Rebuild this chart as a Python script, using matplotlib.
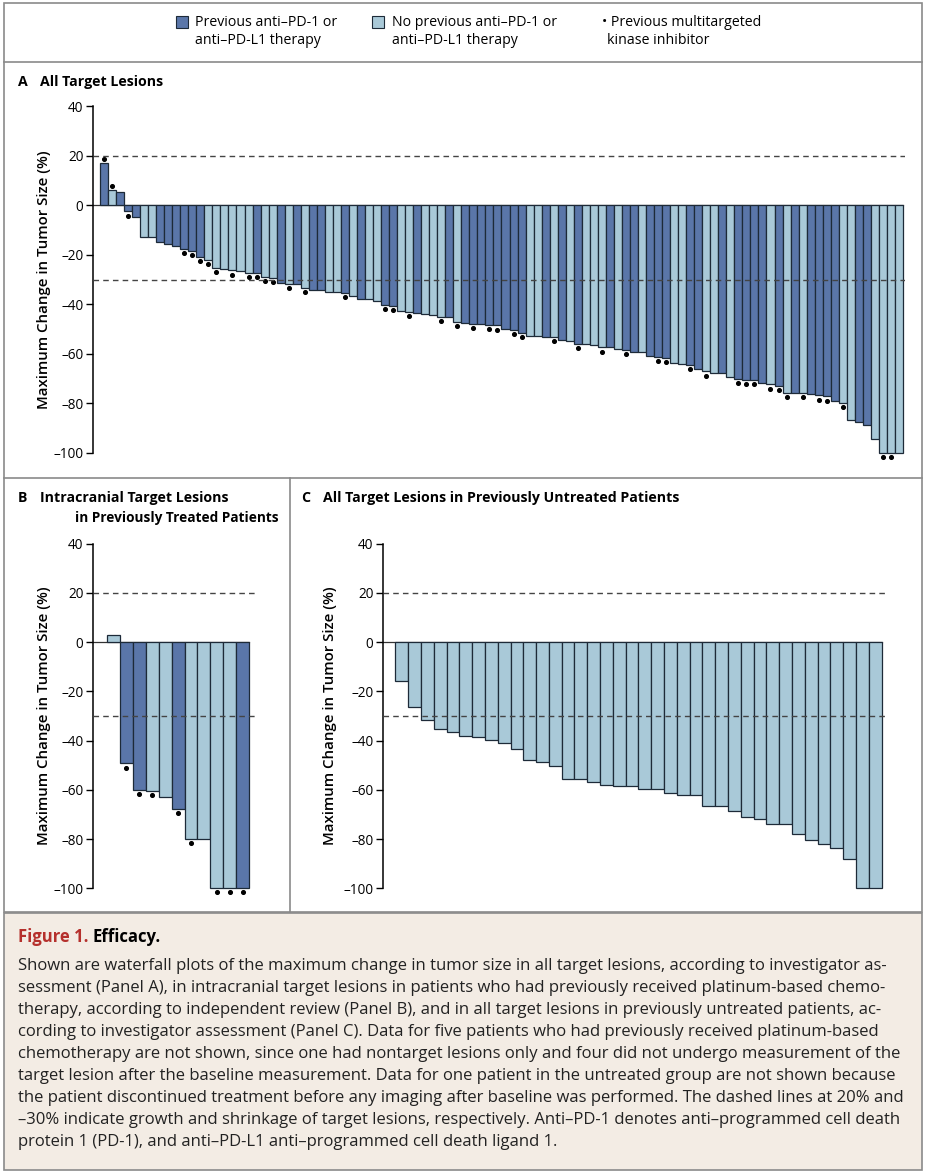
import matplotlib
matplotlib.use("Agg")
import matplotlib.pyplot as plt
from matplotlib.patches import Rectangle
import numpy as np

plt.rcParams['font.family'] = ['Open Sans', 'DejaVu Sans']

# ---- data ----
a_change = [17.0, 6.0, 5.2, -2.5, -4.8, -12.9, -12.9, -15.0, -15.6, -16.6,
            -17.6, -18.5, -20.9, -22.0, -25.3, -25.9, -26.3, -26.6, -27.2, -27.2,
            -28.9, -29.4, -31.6, -31.9, -31.9, -33.5, -34.1, -34.3, -35.1, -35.1,
            -35.5, -36.6, -37.9, -37.9, -38.7, -40.1, -40.5, -42.8, -43.2, -43.6,
            -43.8, -44.4, -45.2, -45.2, -47.1, -47.7, -47.9, -48.0, -48.4, -48.5,
            -50.0, -50.4, -51.6, -52.7, -52.7, -53.0, -53.3, -54.5, -54.9, -56.0,
            -56.2, -56.6, -57.4, -57.4, -58.1, -58.4, -59.2, -59.2, -60.8, -61.2,
            -61.5, -63.6, -64.2, -64.4, -66.2, -67.1, -67.8, -67.8, -69.4, -70.2,
            -70.5, -70.6, -71.6, -72.3, -72.8, -75.9, -75.9, -75.9, -76.3, -76.8,
            -77.2, -78.9, -79.9, -86.7, -87.5, -88.7, -94.5, -100, -100, -100]
# D = previous anti-PD-1/PD-L1, L = no previous
a_group = ("DLDDDLLDDD" "DDDLLLLLLD" "LLDLDLDDLL" "DLDLLDDLLD" "LLLDLDDDDD"
           "DDDLLDLDLD" "LLLDLDDLDD" "DLLDDLLDLD" "DDDLDLDLDD" "DDLLDDLLLL")
a_tki = [1, 2, 4, 11, 12, 13, 14, 15, 17, 19, 20, 21, 22, 24, 26, 31, 36, 37, 39,
         43, 45, 47, 49, 50, 52, 53, 57, 60, 63, 66, 70, 71, 74, 76, 80, 81, 82,
         84, 85, 86, 88, 90, 91, 93, 98, 99]

b_change = [2.7, -49.3, -60.1, -60.6, -62.8, -67.7, -80.1, -80.1, -100, -100, -100]
b_group = "LDDLLDLLLLD"
b_tki = [2, 3, 4, 6, 7, 9, 10, 11]

c_change = [-15.9, -26.5, -31.8, -35.3, -36.6, -38.0, -38.6, -39.9, -41.2, -43.5,
            -48.0, -48.9, -50.4, -55.7, -55.7, -56.8, -58.2, -58.5, -58.6, -59.5,
            -59.5, -61.5, -62.3, -62.3, -66.6, -66.6, -68.8, -71.2, -72.0, -73.8,
            -73.8, -78.0, -80.4, -82.2, -83.6, -88.1, -100, -100]

yticks = [40, 20, 0, -20, -40, -60, -80, -100]
ytick_labels = ["40", "20", "0", "\u201320", "\u201340", "\u201360", "\u201380", "\u2013100"]
thresholds = [20, -30]
ylab = "Maximum Change in Tumor Size (%)"

DARK = "#5a76a9"
LIGHT = "#a9c9d8"
EDGE = "#1d2a38"
W, H = 928, 1174

fig = plt.figure(figsize=(W / 100, H / 100), dpi=100)
fig.patch.set_facecolor("white")

# background axes in pixel coordinates for frames and text
bg = fig.add_axes([0, 0, 1, 1])
bg.set_xlim(0, W)
bg.set_ylim(H, 0)
bg.axis("off")

frame = "#8a8a8a"
bg.add_patch(Rectangle((4, 3), 918, 909, fill=False, ec=frame, lw=1.2))
bg.add_patch(Rectangle((4, 913), 918, 257, fc="#f3ece4", ec=frame, lw=1.2))
bg.plot([4, 922], [62, 62], color=frame, lw=1.2)
bg.plot([4, 922], [478, 478], color=frame, lw=1.2)
bg.plot([290, 290], [478, 912], color=frame, lw=1.2)

# legend
bg.add_patch(Rectangle((176, 16), 12, 12, fc=DARK, ec=EDGE, lw=0.8))
bg.text(195, 22, "Previous anti\u2013PD-1 or", fontsize=10.2, va="center")
bg.text(195, 41, "anti\u2013PD-L1 therapy", fontsize=10.2, va="center")
bg.add_patch(Rectangle((372, 16), 12, 12, fc=LIGHT, ec=EDGE, lw=0.8))
bg.text(392, 22, "No previous anti\u2013PD-1 or", fontsize=10.2, va="center")
bg.text(392, 41, "anti\u2013PD-L1 therapy", fontsize=10.2, va="center")
bg.text(602, 22, "\u2022 Previous multitargeted", fontsize=10.2, va="center")
bg.text(607, 41, "kinase inhibitor", fontsize=10.2, va="center")

# panel titles
tkw = dict(fontsize=10.2, fontweight="bold", va="center")
bg.text(18, 82, "A", **tkw)
bg.text(40, 82, "All Target Lesions", **tkw)
bg.text(18, 498, "B", **tkw)
bg.text(40, 498, "Intracranial Target Lesions", **tkw)
bg.text(75, 518, "in Previously Treated Patients", fontsize=9.8, fontweight="bold", va="center")
bg.text(301, 498, "C", **tkw)
bg.text(323, 498, "All Target Lesions in Previously Untreated Patients", **tkw)

# y labels
lkw = dict(fontsize=10.8, fontweight="semibold", rotation=90, ha="center", va="center")
bg.text(44, 280, ylab, **lkw)
bg.text(44, 716, ylab, **lkw)
bg.text(330, 716, ylab, **lkw)

# caption
bg.text(18, 937, "Figure 1.", fontsize=12, fontweight="bold", color="#b5302c", va="center")
bg.text(93, 937, "Efficacy.", fontsize=12, fontweight="bold", va="center")
caption = [
    "Shown are waterfall plots of the maximum change in tumor size in all target lesions, according to investigator as-",
    "sessment (Panel A), in intracranial target lesions in patients who had previously received platinum-based chemo-",
    "therapy, according to independent review (Panel B), and in all target lesions in previously untreated patients, ac-",
    "cording to investigator assessment (Panel C). Data for five patients who had previously received platinum-based",
    "chemotherapy are not shown, since one had nontarget lesions only and four did not undergo measurement of the",
    "target lesion after the baseline measurement. Data for one patient in the untreated group are not shown because",
    "the patient discontinued treatment before any imaging after baseline was performed. The dashed lines at 20% and",
    "\u201330% indicate growth and shrinkage of target lesions, respectively. Anti\u2013PD-1 denotes anti\u2013programmed cell death",
    "protein 1 (PD-1), and anti\u2013PD-L1 anti\u2013programmed cell death ligand 1.",
]
for i, line in enumerate(caption):
    bg.text(18, 966 + 22 * i, line, fontsize=12, va="center", color="#222222")


def px_axes(x0, x1, y0, y1):
    return fig.add_axes([x0 / W, 1 - y1 / H, (x1 - x0) / W, (y1 - y0) / H])


def waterfall(ax, values, groups, tki, xlim):
    n = len(values)
    x = np.arange(n)
    colors = [DARK if g == "D" else LIGHT for g in groups]
    ax.bar(x, values, width=1.0, color=colors, edgecolor=EDGE, linewidth=0.9, zorder=3)
    for t in thresholds:
        ax.axhline(t, color="#444444", lw=1.0, ls=(0, (4, 3)), zorder=5)
    ax.plot([xlim[0], n - 0.5], [0, 0], color="#333333", lw=0.9, zorder=2)
    if tki:
        idx = np.array(tki) - 1
        v = np.array(values)[idx]
        ax.scatter(idx, v + np.where(v > 0, 1.7, -1.7), s=7, color="black", zorder=4,
                   clip_on=False)
    ax.set_xlim(*xlim)
    ax.set_ylim(-104, 44)
    ax.set_xticks([])
    ax.set_yticks(yticks)
    ax.set_yticklabels(ytick_labels, fontsize=9.8)
    for s in ["top", "right", "bottom"]:
        ax.spines[s].set_visible(False)
    ax.spines["left"].set_bounds(-100, 40)
    ax.spines["left"].set_linewidth(1.1)
    ax.tick_params(axis="y", length=5, width=1.0, pad=2)
    ax.patch.set_alpha(0)


def yspan(top40, bot100):
    k = (bot100 - top40) / 140.0
    return top40 - 4 * k, bot100 + 4 * k


# panel A: 40 at y=106, -100 at y=453
y0, y1 = yspan(106, 453)
axA = px_axes(93.3, 905, y0, y1)
waterfall(axA, a_change, a_group, a_tki, (-1.33, 99.75))

y0, y1 = yspan(543.5, 888.3)
axB = px_axes(93.3, 256.5, y0, y1)
waterfall(axB, b_change, b_group, b_tki, (-1.53, 11.05))

axC = px_axes(383.3, 887, y0, y1)
waterfall(axC, c_change, "L" * len(c_change), [], (-1.44, 37.92))

fig.savefig("out.png", dpi=100)
